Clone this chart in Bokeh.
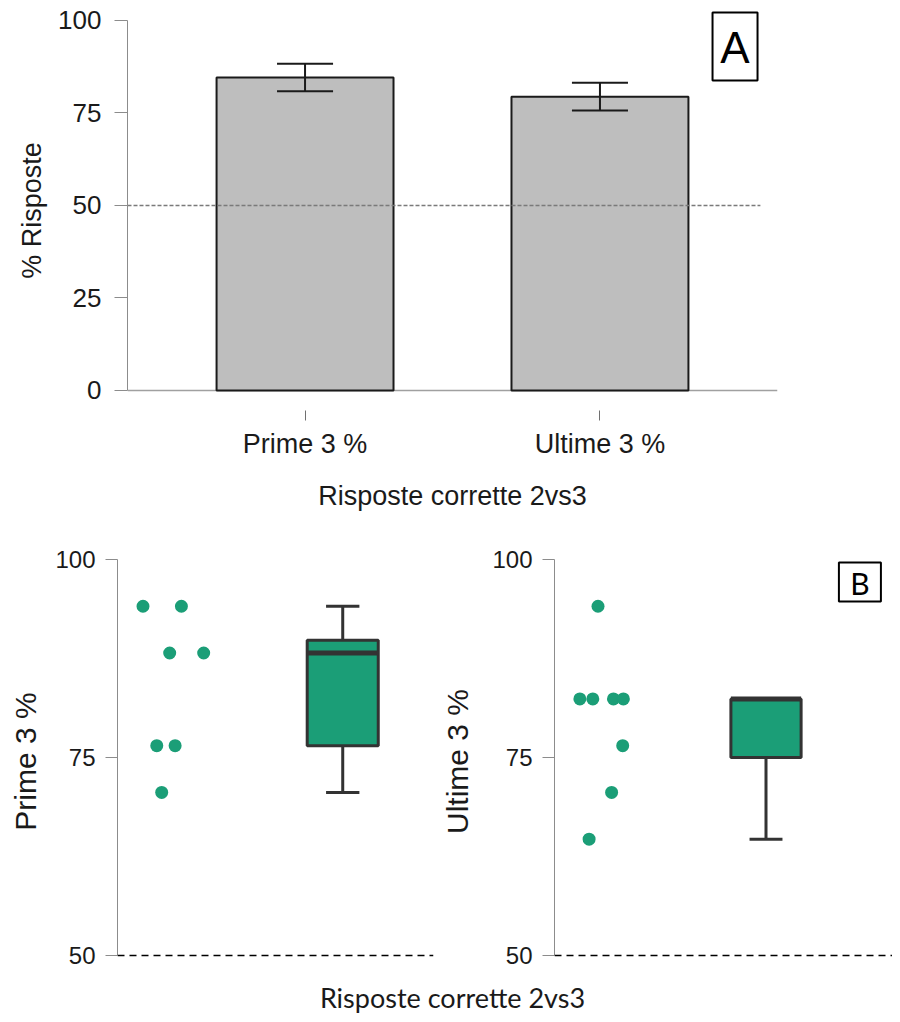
from bokeh.plotting import figure
from bokeh.models import Range1d, FixedTicker, Span, Label
from bokeh.layouts import column, row
from bokeh.core.properties import value
from bokeh.embed import file_html
from bokeh.resources import INLINE

# ---------------- data ----------------
# Panel A: mean % correct with error bars
cond_labels = ["Prime 3 %", "Ultime 3 %"]
cond_x = [1, 2]
mean_pct = [84.6, 79.4]
err_hi = [88.3, 83.2]
err_lo = [80.9, 75.7]
a_yticks = [0, 25, 50, 75, 100]
chance_level = 50

# Panel B: individual scores (x = horizontal jitter)
prime_vals = [94.1, 94.1, 88.2, 88.2, 76.5, 76.5, 70.6]
prime_jit = [0.825, 1.051, 0.982, 1.182, 0.906, 1.014, 0.935]
ultime_vals = [94.1, 82.4, 82.4, 82.4, 82.4, 76.5, 70.6, 64.7]
ultime_jit = [1.0, 0.892, 0.969, 1.092, 1.151, 1.147, 1.081, 0.947]
box_pos = [2]
# box stats: lower whisker, Q1, median, Q3, upper whisker
prime_box = [70.6, 76.5, 88.2, 89.8, 94.1]
ultime_box = [64.7, 75.0, 82.4, 82.4, 82.4]
b_yticks = [50, 75, 100]

ARIAL = "Liberation Sans"
GREEN = "#1b9e77"
DARK = "#333333"
AXGRAY = "#8c8c8c"

# ---------------- Panel A ----------------
pA = figure(width=892, height=528, x_range=Range1d(0.398, 2.602),
            y_range=Range1d(-5.4054, 102.7), output_backend="svg",
            toolbar_location=None, min_border_left=127, min_border_right=115,
            min_border_top=10, min_border_bottom=118)
pA.grid.visible = False
pA.outline_line_color = None

base = Span(location=0, dimension="width", line_color="#a0a0a0", line_width=1.3, level="underlay")
pA.add_layout(base)

pA.vbar(x=cond_x, top=mean_pct, bottom=0, width=0.6, fill_color="#bebebe",
        line_color="#1a1a1a", line_width=2)
pA.segment(x0=cond_x, y0=err_lo, x1=cond_x, y1=err_hi, line_color="#1a1a1a", line_width=2)
cap = 0.095
pA.segment(x0=[x - cap for x in cond_x], y0=err_hi, x1=[x + cap for x in cond_x], y1=err_hi,
           line_color="#1a1a1a", line_width=2)
pA.segment(x0=[x - cap for x in cond_x], y0=err_lo, x1=[x + cap for x in cond_x], y1=err_lo,
           line_color="#1a1a1a", line_width=2)
pA.segment(x0=[0.398], y0=[chance_level], x1=[2.544], y1=[chance_level],
           line_color="#7a7a7a", line_width=1.3, line_dash="4 2")

pA.rect(x=[2.458], y=[93.0], width=45, height=68, width_units="screen", height_units="screen",
        fill_color="white", line_color="black", line_width=2)
pA.text(x=[2.458], y=[92.6], text=["A"], text_align="center", text_baseline="middle",
        text_font=value(ARIAL), text_font_size=value("44px"), text_color="black")

ya = pA.yaxis[0]
ya.ticker = FixedTicker(ticks=a_yticks)
ya.bounds = (0, 100)
ya.axis_line_color = AXGRAY
ya.major_tick_line_color = AXGRAY
ya.major_tick_out = 13
ya.major_tick_in = 0
ya.minor_tick_line_color = None
ya.major_label_standoff = 13
ya.major_label_text_font = ARIAL
ya.major_label_text_font_size = "26px"
ya.major_label_text_color = "#1a1a1a"
ya.axis_label = "% Risposte"
ya.axis_label_text_font = ARIAL
ya.axis_label_text_font_size = "27px"
ya.axis_label_text_font_style = "normal"
ya.axis_label_text_color = "#1a1a1a"
ya.axis_label_standoff = 8

xa = pA.xaxis[0]
xa.ticker = FixedTicker(ticks=cond_x)
xa.major_label_overrides = dict(zip(cond_x, cond_labels))
xa.axis_line_color = None
xa.major_tick_line_color = "#707070"
xa.major_tick_out = 10
xa.major_tick_in = 0
xa.minor_tick_line_color = None
xa.major_label_standoff = 8
xa.major_label_text_font = ARIAL
xa.major_label_text_font_size = "27px"
xa.major_label_text_color = "#1a1a1a"
xa.axis_label = "Risposte corrette 2vs3"
xa.axis_label_text_font = ARIAL
xa.axis_label_text_font_size = "27px"
xa.axis_label_text_font_style = "normal"
xa.axis_label_text_color = "#1a1a1a"
xa.axis_label_standoff = 19


# ---------------- Panel B ----------------
def box_panel(vals, jit, stats, ylabel, width, left, right, xr, lab_standoff):
    p = figure(width=width, height=440, x_range=Range1d(*xr), y_range=Range1d(49, 100),
               output_backend="svg", toolbar_location=None, min_border_left=left,
               min_border_right=right, min_border_top=31, min_border_bottom=5)
    p.grid.visible = False
    p.outline_line_color = None
    p.xaxis.visible = False
    p.add_layout(Span(location=50, dimension="width", line_color="black",
                      line_width=1.5, line_dash="7 5"))
    p.scatter(x=jit, y=vals, size=13, fill_color=GREEN, line_color=None)
    lo, q1, med, q3, hi = stats
    bw = 0.418
    cw = 0.098
    bx = box_pos
    p.segment(x0=bx, y0=[q3], x1=bx, y1=[hi], line_color=DARK, line_width=3)
    p.segment(x0=bx, y0=[q1], x1=bx, y1=[lo], line_color=DARK, line_width=3)
    p.segment(x0=[b - cw for b in bx], y0=[hi], x1=[b + cw for b in bx], y1=[hi],
              line_color=DARK, line_width=3)
    p.segment(x0=[b - cw for b in bx], y0=[lo], x1=[b + cw for b in bx], y1=[lo],
              line_color=DARK, line_width=3)
    p.vbar(x=bx, bottom=[q1], top=[q3], width=bw, fill_color=GREEN, line_color=DARK,
           line_width=3)
    p.segment(x0=[b - bw / 2 for b in bx], y0=[med], x1=[b + bw / 2 for b in bx], y1=[med],
              line_color=DARK, line_width=5)
    ya = p.yaxis[0]
    ya.ticker = FixedTicker(ticks=b_yticks)
    ya.bounds = (50, 100)
    ya.axis_line_color = AXGRAY
    ya.major_tick_line_color = AXGRAY
    ya.major_tick_out = 12
    ya.major_tick_in = 0
    ya.minor_tick_line_color = None
    ya.major_label_standoff = 10
    ya.major_label_text_font = ARIAL
    ya.major_label_text_font_size = "24px"
    ya.major_label_text_color = "#1a1a1a"
    ya.axis_label = ylabel
    ya.axis_label_text_font = ARIAL
    ya.axis_label_text_font_size = "30px"
    ya.axis_label_text_font_style = "normal"
    ya.axis_label_text_color = "#1a1a1a"
    ya.axis_label_standoff = lab_standoff
    return p


pBL = box_panel(prime_vals, prime_jit, prime_box, "Prime 3 %", 438, 117, 5,
                (0.675, 2.534), 10)
pBR = box_panel(ultime_vals, ultime_jit, ultime_box, "Ultime 3 %", 454, 112, 0,
                (0.741, 2.753), 15)
pBR.rect(x=[2.559], y=[97.16], width=42, height=39, width_units="screen", height_units="screen",
         fill_color="white", line_color="black", line_width=2)
pBR.text(x=[2.559], y=[97.0], text=["B"], text_align="center", text_baseline="middle",
         text_font=value("Lato"), text_font_size=value("30px"), text_color="black")

# ---------------- shared bottom label ----------------
pL = figure(width=892, height=46, x_range=Range1d(0, 1), y_range=Range1d(0, 1),
            output_backend="svg", toolbar_location=None, min_border=0)
pL.grid.visible = False
pL.axis.visible = False
pL.outline_line_color = None
pL.add_layout(Label(x=0.5, y=0.37, text="Risposte corrette 2vs3", text_align="center",
                    text_baseline="middle", text_font="Lato", text_font_size="27px",
                    text_color="#1a1a1a"))

layout = column(pA, row(pBL, pBR), pL)
open("out.html", "w").write(file_html(layout, INLINE))
